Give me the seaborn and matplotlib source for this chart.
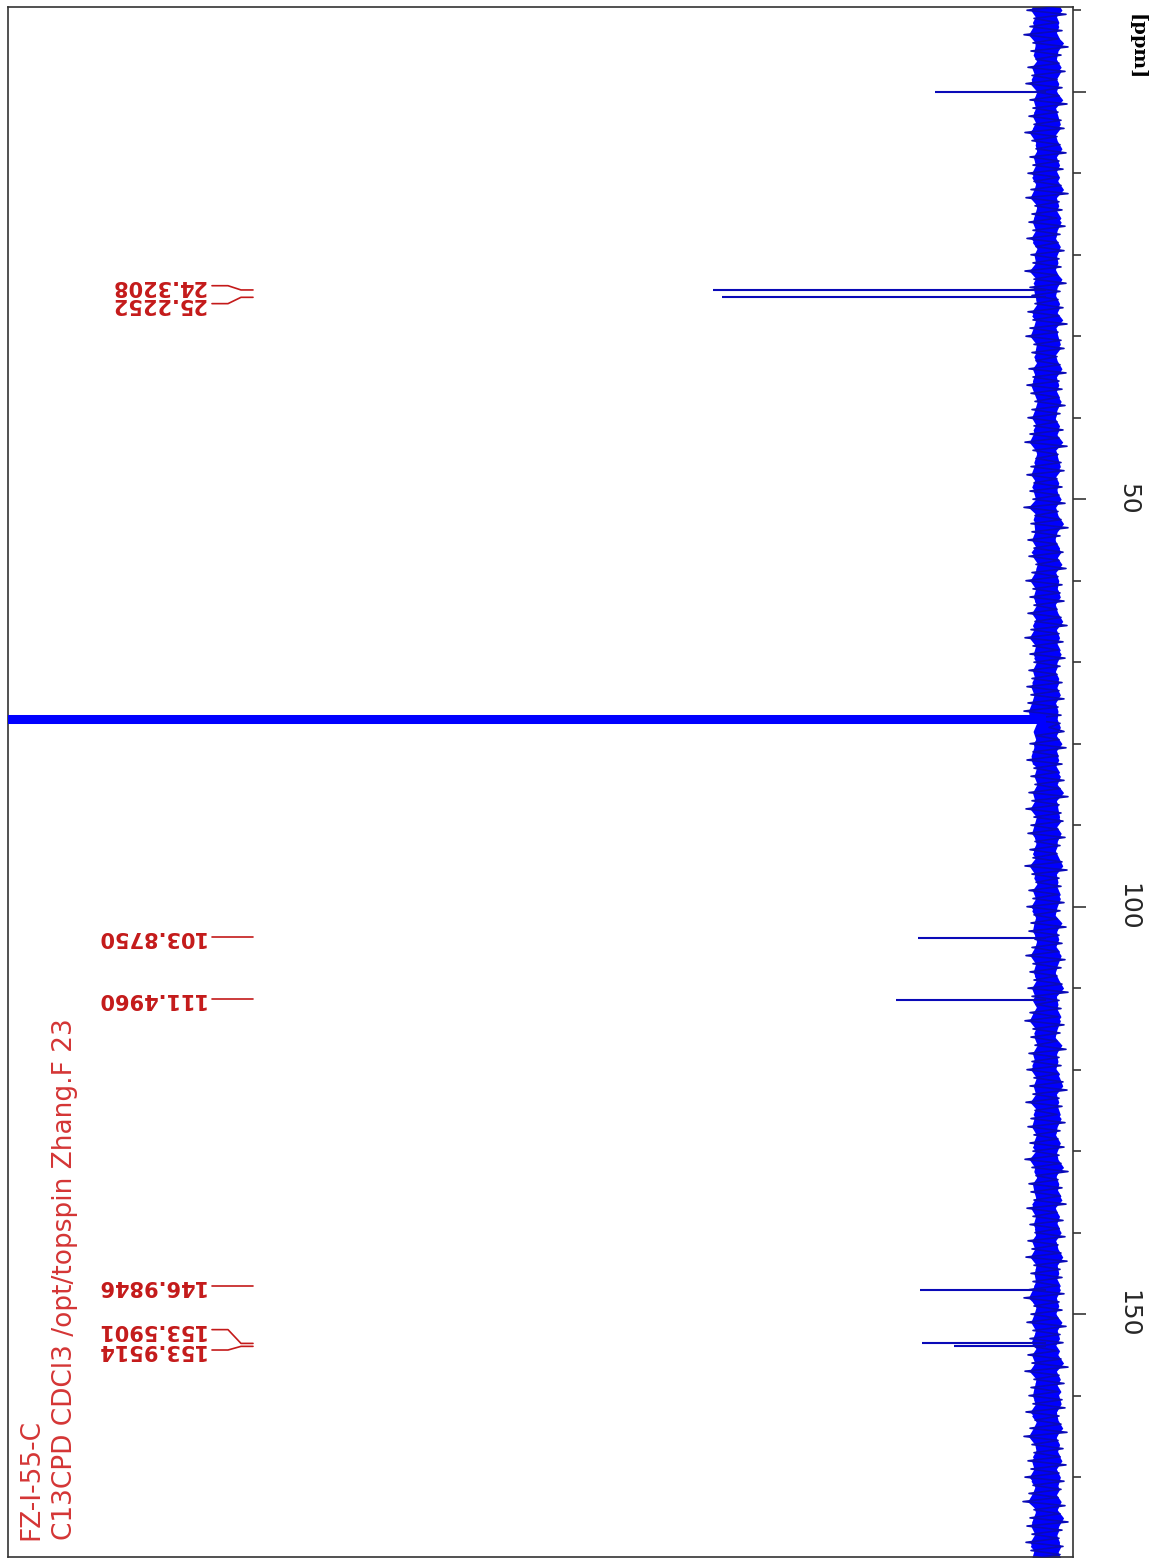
import numpy as np
import matplotlib
matplotlib.use("Agg")
import matplotlib.pyplot as plt
from matplotlib.ticker import MultipleLocator, FixedLocator
import seaborn as sns

# ---------------- data ----------------
title_lines = ["FZ-I-55-C", "C13CPD CDCl3 /opt/topspin Zhang.F 23"]

peak_ppm = [0.0, 24.3208, 25.2252, 103.8750, 111.4960, 146.9846, 153.5901, 153.9514]
peak_height = [111, 333, 324, 128, 150, 126, 124, 92]

solvent_ppm = [76.7, 77.0, 77.3]
solvent_height = [5000, 5000, 5000]

label_text = ["24.3208", "25.2252", "103.8750", "111.4960", "146.9846", "153.5901", "153.9514"]
label_ppm = [24.3208, 25.2252, 103.8750, 111.4960, 146.9846, 153.5901, 153.9514]

tick_major = [0, 50, 100, 150]
tick_labels = ["", "50", "100", "150"]

# noise envelope, one value per ppm from -11 to 180
noise_upper = [15, 19, 12, 16, 22, 13, 15, 10, 18, 14,
               20, 11, 16, 13, 17, 12, 21, 14, 10, 16,
               13, 18, 12, 15, 20, 11, 14, 17, 13, 19,
               10, 15, 13, 21, 12, 16, 14, 11, 18, 13,
               16, 20, 12, 14, 10, 17, 13, 19, 15, 11,
               14, 18, 12, 16, 21, 13, 10, 15, 19, 12,
               16, 13, 22, 11, 15, 14, 18, 12, 17, 10,
               14, 20, 13, 16, 12, 18, 11, 15, 21, 13,
               16, 12, 17, 14, 19, 15, 18, 22, 20, -3,
               10, 16, 13, 19, 12, 15, 11, 17, 14, 20,
               12, 15, 18, 11, 16, 13, 21, 14, 10, 17,
               13, 19, 12, 15, 17, 11, 14, 20, 13, 16,
               12, 18, 14, 10, 16, 21, 13, 15, 11, 17,
               14, 19, 12, 16, 13, 20, 11, 15, 18, 12,
               16, 13, 21, 14, 10, 17, 15, 12, 19, 13,
               16, 11, 18, 14, 20, 12, 15, 13, 17, 22,
               12, 15, 19, 13, 16, 11, 18, 14, 21, 12,
               15, 17, 13, 20, 11, 16, 22, 14, 12, 18,
               15, 21, 13, 17, 23, 12, 16, 19, 14, 20,
               15, 18]
noise_lower = [-14, -20, -11, -16, -12, -22, -15, -13, -19, -11,
               -16, -13, -21, -12, -15, -18, -11, -14, -20, -13,
               -17, -12, -15, -22, -13, -16, -11, -19, -14, -12,
               -18, -13, -15, -11, -20, -14, -12, -17, -13, -21,
               -12, -15, -18, -11, -14, -20, -13, -16, -12, -19,
               -14, -11, -17, -13, -21, -12, -15, -18, -11, -16,
               -13, -19, -12, -15, -22, -14, -11, -17, -13, -20,
               -12, -16, -14, -18, -11, -15, -21, -13, -17, -12,
               -19, -14, -11, -16, -13, -18, -12, -15, -14, -18,
               -13, -20, -12, -16, -11, -18, -14, -22, -13, -15,
               -17, -12, -19, -14, -11, -16, -21, -13, -15, -12,
               -18, -14, -11, -20, -13, -16, -12, -19, -15, -11,
               -16, -22, -13, -15, -12, -18, -14, -11, -20, -13,
               -15, -12, -17, -21, -13, -16, -11, -19, -14, -12,
               -18, -13, -15, -22, -12, -16, -14, -20, -11, -17,
               -13, -19, -12, -15, -21, -14, -16, -12, -18, -13,
               -16, -12, -20, -14, -17, -11, -15, -22, -13, -18,
               -12, -16, -19, -13, -15, -21, -12, -17, -14, -20,
               -13, -18, -15, -12, -19, -14, -22, -16, -13, -17,
               -14, -19]
noise_ppm = np.arange(-11, -11 + len(noise_upper))

# ---------------- style ----------------
sns.set_style("white")
plt.rcParams["font.family"] = ["DejaVu Sans"]

W, H = 1159, 1563
fig = plt.figure(figsize=(W / 100, H / 100), dpi=100)
ax = fig.add_axes([8 / W, 1 - 1557 / H, 1065 / W, 1550 / H])

BLUE = "#0000ff"
EDGE = "#0a0ab8"
RED_LABEL = "#c41a1a"
RED_TITLE = "#d43535"

# noise: jagged core plus zig-zag spikes
upper = np.array(noise_upper, dtype=float)
lower = np.array(noise_lower, dtype=float)
ax.fill_betweenx(noise_ppm, 0.8 * lower, 0.8 * upper, color=BLUE, lw=0, zorder=2)
ax.fill_betweenx(noise_ppm + 0.5, 0.68 * np.roll(lower, 3), 0.68 * np.roll(upper, 5),
                 color=BLUE, lw=0, zorder=2)
zig_y = np.empty(2 * len(noise_ppm))
zig_x = np.empty(2 * len(noise_ppm))
zig_y[0::2] = noise_ppm
zig_y[1::2] = noise_ppm + 0.5
zig_x[0::2] = upper
zig_x[1::2] = lower
sns.lineplot(x=zig_x, y=zig_y, orient="y", sort=False, estimator=None,
             color=EDGE, lw=1.2, ax=ax, zorder=3)

# peaks
ax.hlines(peak_ppm, 0, peak_height, color=EDGE, lw=1.5, zorder=4)
ax.hlines(solvent_ppm, 0, solvent_height, color=BLUE, lw=2.9, zorder=4)

# axes limits (rotated spectrum: ppm vertical, intensity to the left)
ax.set_ylim(179.8, -10.4)
ax.set_xlim(1038, -27)


def I(px):
    return 1046 - px


single = {"103.8750": 103.7, "111.4960": 111.3, "146.9846": 146.5}
pair_text_pos = {"24.3208": 23.8, "25.2252": 26.0, "153.5901": 151.9, "153.9514": 154.4}
for txt, pp in zip(label_text, label_ppm):
    if txt in single:
        yl = single[txt]
        ax.plot([I(212), I(253)], [yl, yl], color=RED_LABEL, lw=1.2, zorder=5)
    else:
        yl = pair_text_pos[txt]
        ax.plot([I(212), I(228), I(241), I(253)], [yl, yl, pp, pp],
                color=RED_LABEL, lw=1.2, zorder=5)
    ax.text(I(205), yl, txt, rotation=180, ha="right", va="center",
            family="DejaVu Sans", weight="bold", fontsize=15,
            color=RED_LABEL, zorder=6)

# title (rotated)
ax.text(I(31), 177.7, title_lines[0], rotation=90, ha="center", va="bottom",
        fontsize=19, color=RED_TITLE)
ax.text(I(65), 177.7, title_lines[1], rotation=90, ha="center", va="bottom",
        fontsize=19, color=RED_TITLE)

# y axis on right
ax.yaxis.tick_right()
ax.yaxis.set_major_locator(FixedLocator(tick_major))
ax.set_yticklabels(tick_labels)
ax.yaxis.set_minor_locator(MultipleLocator(10))
ax.tick_params(axis="y", which="major", direction="out", length=9.5, width=1.1,
               pad=30, labelsize=18, labelrotation=-90, right=True, left=False)
ax.tick_params(axis="y", which="minor", direction="out", length=6, width=1.1,
               right=True, left=False)
for lab in ax.get_yticklabels():
    lab.set_va("center")
    lab.set_ha("center")
ax.set_xticks([])
for s in ax.spines.values():
    s.set_visible(True)
    s.set_color("#333333")
    s.set_linewidth(1.2)

fig.text(1137 / W, 1 - 47 / H, "[ppm]", rotation=-90, ha="center", va="center",
         family="DejaVu Serif", weight="bold", fontsize=14, color="black")

fig.savefig("out.png", dpi=100, facecolor="white")
